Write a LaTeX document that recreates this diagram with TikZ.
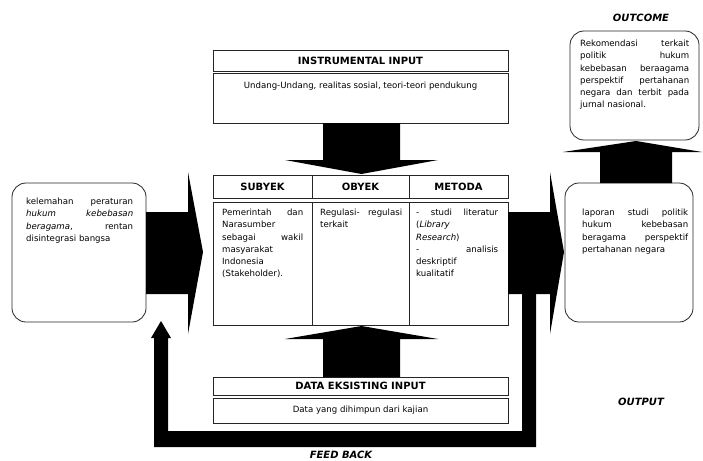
\documentclass[tikz,border=0pt]{standalone}
\usepackage{fontspec}
\setmainfont{DejaVu Sans}[ItalicFont={DejaVu Sans Oblique},BoldFont={DejaVu Sans Bold},BoldItalicFont={DejaVu Sans Bold Oblique}]
\newcommand\jl[1]{\leavevmode\hbox to \hsize{#1}}
\newcommand\sep{\hfill}
\frenchspacing
\begin{document}
\begin{tikzpicture}[x=1pt,y=-1pt,
  box/.style={draw=black!85, line width=0.8pt, inner sep=0pt},
  rbox/.style={box, rounded corners=14pt},
  ttl/.style={box, font=\bfseries\fontsize{10}{12}\selectfont},
  txt/.style={anchor=north west, inner sep=0pt, align=left, font=\fontsize{8.6}{12.2}\selectfont},
  ctxt/.style={anchor=base, inner sep=0pt, font=\fontsize{8.6}{12.2}\selectfont},
  lbl/.style={inner sep=0pt, font=\bfseries\itshape\fontsize{10}{12}\selectfont},
  blk/.style={fill=black, draw=none}]
\fill[white] (0,0) rectangle (703,460);
\useasboundingbox (0,0) rectangle (703,460);

% left box
\node[rbox, minimum width=134, minimum height=139] (left) at (79,252.5) {};
\node[txt, text width=107] (lefttxt) at (26,198) {\jl{kelemahan\sep peraturan}\\ \jl{\textit{hukum}\sep\textit{kebebasan}}\\ \jl{\textit{beragama},\sep rentan}\\ disintegrasi bangsa};

% instrumental input
\node[ttl, minimum width=295, minimum height=21] (instrT) at (360.5,60.5) {INSTRUMENTAL INPUT};
\node[box, minimum width=295, minimum height=50] (instrC) at (360.5,98) {};
\node[ctxt] (instrtxt) at (360.5,88) {Undang-Undang, realitas sosial, teori-teori pendukung};

% table
\node[ttl, minimum width=99, minimum height=23] (subH) at (262.5,186.5) {SUBYEK};
\node[ttl, minimum width=97, minimum height=23] (obyH) at (360.5,186.5) {OBYEK};
\node[ttl, minimum width=99, minimum height=23] (metH) at (458.5,186.5) {METODA};
\node[box, minimum width=99, minimum height=123] (subC) at (262.5,263.5) {};
\node[box, minimum width=97, minimum height=123] (obyC) at (360.5,263.5) {};
\node[box, minimum width=99, minimum height=123] (metC) at (458.5,263.5) {};
\node[txt, text width=81] (subtxt) at (222,209) {\jl{Pemerintah\sep dan}\\ Narasumber\\ \jl{sebagai\sep wakil}\\ masyarakat\\ Indonesia\\ (Stakeholder).};
\node[txt, text width=82] (obytxt) at (320,209) {\jl{Regulasi-\sep regulasi}\\ terkait};
\node[txt, text width=82] (mettxt) at (416,209) {\jl{-\sep studi\sep literatur}\\ (\textit{Library}\\ \textit{Research})\\ \jl{-\sep analisis}\\ deskriptif\\ kualitatif};

% data eksisting input
\node[ttl, minimum width=295, minimum height=18] (dataT) at (360.5,386) {DATA EKSISTING INPUT};
\node[box, minimum width=295, minimum height=25] (dataC) at (360.5,410.5) {};
\node[ctxt] (datatxt) at (360.5,412) {Data yang dihimpun dari kajian};

% output and outcome boxes
\node[rbox, minimum width=128, minimum height=139] (out) at (629,252.5) {};
\node[txt, text width=106] (outtxt) at (582,209) {\jl{laporan\sep studi\sep politik}\\ \jl{hukum\sep kebebasan}\\ \jl{beragama\sep perspektif}\\ pertahanan negara};
\node[rbox, minimum width=129, minimum height=109] (outc) at (634.5,85.5) {};
\node[txt, text width=109] (outctxt) at (580,40) {\jl{Rekomendasi\sep terkait}\\ \jl{politik\sep hukum}\\ \jl{kebebasan\sep beraagama}\\ \jl{perspektif\sep pertahanan}\\ \jl{negara\sep dan\sep terbit\sep pada}\\ jurnal nasional.};

% block arrows
\fill[blk] (146,212) -- (188,212) -- (188,172) -- (203,252) -- (188,334) -- (188,294) -- (146,294) -- cycle;
\fill[blk] (323,123) -- (400,123) -- (400,160) -- (438,160) -- (361.5,174) -- (285,160) -- (323,160) -- cycle;
\fill[blk] (323,377) -- (400,377) -- (400,339) -- (438,339) -- (361.5,326) -- (285,339) -- (323,339) -- cycle;
\fill[blk] (508,212) -- (550,212) -- (550,172) -- (564,252) -- (550,334) -- (550,294) -- (508,294) -- cycle;
\fill[blk] (522,294) -- (536,294) -- (536,447) -- (154,447) -- (154,338) -- (151,338) -- (161,321) -- (171,338) -- (168,338) -- (168,431) -- (522,431) -- cycle;
\fill[blk] (600,183) -- (672,183) -- (672,152) -- (702,152) -- (636,141) -- (563,152) -- (600,152) -- cycle;

% labels
\node[lbl] (outcomelbl) at (641,18) {OUTCOME};
\node[lbl] (outputlbl) at (641,402) {OUTPUT};
\node[lbl] (feedlbl) at (341,455) {FEED BACK};
\end{tikzpicture}
\end{document}
